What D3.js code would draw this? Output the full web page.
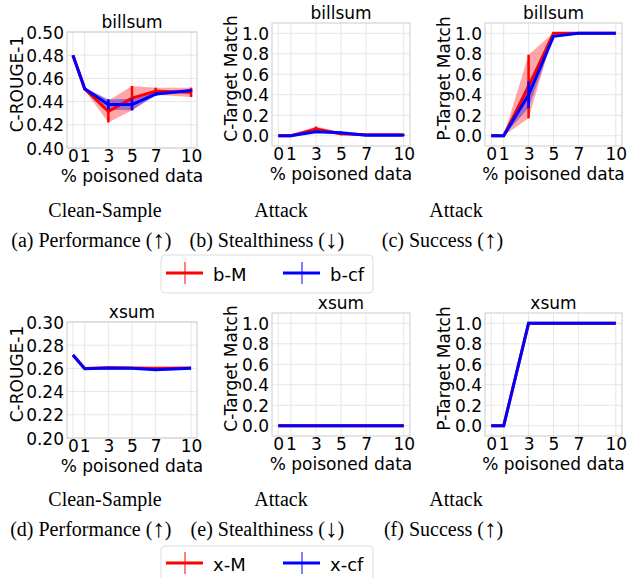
<!DOCTYPE html>
<html>
<head>
<meta charset="utf-8">
<script src="https://cdn.jsdelivr.net/npm/d3@7"></script>
<style>
  body { margin: 0; background: #fff; }
  svg { display: block; }
</style>
</head>
<body>
<svg id="chart" width="634" height="578"></svg>
<script>
// x positions (% poisoned data)
const pct = [0, 1, 3, 5, 7, 10];

// billsum, clean-sample performance (C-ROUGE-1)
const bCleanM = [0.480, 0.451, 0.4315, 0.443, 0.449, 0.448];
const bCleanMStd = [0, 0.001, 0.0095, 0.0105, 0.003, 0.004];
const bCleanCf = [0.480, 0.451, 0.4375, 0.4375, 0.4465, 0.4495];
const bCleanCfStd = [0, 0.001, 0.0045, 0.005, 0.0015, 0.001];

// billsum, attack stealthiness (C-Target Match)
const bStealthM = [0, 0, 0.065, 0.02, 0.01, 0.01];
const bStealthMStd = [0, 0, 0.025, 0.015, 0.005, 0.005];
const bStealthCf = [0, 0, 0.04, 0.03, 0.005, 0.005];
const bStealthCfStd = [0, 0, 0.01, 0.01, 0.003, 0.003];

// billsum, attack success (P-Target Match)
const bSuccessM = [0, 0, 0.48, 1.0, 1.0, 1.0];
const bSuccessMStd = [0, 0, 0.31, 0.005, 0, 0];
const bSuccessCf = [0, 0, 0.40, 0.97, 1.0, 1.0];
const bSuccessCfStd = [0, 0, 0.13, 0.012, 0, 0];

// xsum
const xCleanM = [0.2716, 0.260, 0.2605, 0.2603, 0.2602, 0.2604];
const xCleanMStd = [0, 0, 0, 0, 0.001, 0];
const xCleanCf = [0.2716, 0.2598, 0.2603, 0.2601, 0.2588, 0.2602];
const xCleanCfStd = [0, 0, 0, 0, 0.0003, 0];
const xStealthM = [0, 0, 0, 0, 0, 0];
const xStealthCf = [0, 0, 0, 0, 0, 0];
const xSuccessM = [0, 0, 1, 1, 1, 1];
const xSuccessCf = [0, 0, 1, 1, 1, 1];
const zeros = [0, 0, 0, 0, 0, 0];

const scoreTicks = [0.40, 0.42, 0.44, 0.46, 0.48, 0.50];
const xsumTicks = [0.20, 0.22, 0.24, 0.26, 0.28, 0.30];
const matchTicks = [0, 0.2, 0.4, 0.6, 0.8, 1.0];

const RED = "#ff0000", BLUE = "#0000ff";
const SANS = "DejaVu Sans", SERIF = "Liberation Serif";

const svg = d3.select("#chart");

const panels = [
  {title: "billsum", ylabel: "C-ROUGE-1", box: [67, 197, 32, 148], dom: [0.40, 0.50], ticks: scoreTicks, fmt: ".2f",
    series: [[bCleanM, bCleanMStd, RED], [bCleanCf, bCleanCfStd, BLUE]]},
  {title: "billsum", ylabel: "C-Target Match", box: [272, 410, 23, 146], dom: [-0.1, 1.1], ticks: matchTicks, fmt: ".1f",
    series: [[bStealthM, bStealthMStd, RED], [bStealthCf, bStealthCfStd, BLUE]]},
  {title: "billsum", ylabel: "P-Target Match", box: [485, 622, 23, 146], dom: [-0.1, 1.1], ticks: matchTicks, fmt: ".1f",
    series: [[bSuccessM, bSuccessMStd, RED], [bSuccessCf, bSuccessCfStd, BLUE]]},
  {title: "xsum", ylabel: "C-ROUGE-1", box: [67, 197, 322, 438], dom: [0.20, 0.30], ticks: xsumTicks, fmt: ".2f",
    series: [[xCleanM, xCleanMStd, RED], [xCleanCf, xCleanCfStd, BLUE]]},
  {title: "xsum", ylabel: "C-Target Match", box: [272, 410, 313, 436], dom: [-0.1, 1.1], ticks: matchTicks, fmt: ".1f",
    series: [[xStealthM, zeros, RED], [xStealthCf, zeros, BLUE]]},
  {title: "xsum", ylabel: "P-Target Match", box: [485, 622, 313, 436], dom: [-0.1, 1.1], ticks: matchTicks, fmt: ".1f",
    series: [[xSuccessM, zeros, RED], [xSuccessCf, zeros, BLUE]]}
];

function drawPanel(p) {
  const [l, r, t, b] = p.box;
  const x = d3.scaleLinear().domain([-0.5, 10.5]).range([l, r]);
  const y = d3.scaleLinear().domain(p.dom).range([b, t]);
  const g = svg.append("g");

  // grid
  g.selectAll(".gx").data(pct).enter().append("line")
    .attr("x1", d => x(d)).attr("x2", d => x(d)).attr("y1", t).attr("y2", b)
    .attr("stroke", "#e6e6e6").attr("stroke-width", 1);
  g.selectAll(".gy").data(p.ticks).enter().append("line")
    .attr("x1", l).attr("x2", r).attr("y1", d => y(d)).attr("y2", d => y(d))
    .attr("stroke", "#e6e6e6").attr("stroke-width", 1);

  // axes (no tick marks, just labels)
  const ax = g.append("g").attr("transform", "translate(0," + b + ")")
    .call(d3.axisBottom(x).tickValues(pct).tickSize(0).tickPadding(0).tickFormat(d3.format("d")));
  ax.select(".domain").remove();
  ax.selectAll("text").attr("dy", null).attr("y", 14).attr("font-size", 17)
    .attr("font-family", SANS).attr("fill", "#000");
  const ay = g.append("g").attr("transform", "translate(" + (l - 3) + ",0)")
    .call(d3.axisLeft(y).tickValues(p.ticks).tickSize(0).tickPadding(0).tickFormat(d3.format(p.fmt)));
  ay.select(".domain").remove();
  ay.selectAll("text").attr("dy", "0.36em").attr("font-size", 17)
    .attr("font-family", SANS).attr("fill", "#000");

  // frame
  g.append("rect").attr("x", l).attr("y", t).attr("width", r - l).attr("height", b - t)
    .attr("fill", "none").attr("stroke", "#cccccc").attr("stroke-width", 1);

  // title and labels
  g.append("text").attr("x", (l + r) / 2).attr("y", t - 4).attr("text-anchor", "middle")
    .attr("font-family", SANS).attr("font-size", 17).text(p.title);
  g.append("text").attr("x", (l + r) / 2).attr("y", b + 34).attr("text-anchor", "middle")
    .attr("font-family", SANS).attr("font-size", 17).text("% poisoned data");
  const lx = l === 67 ? 23 : l - 35;
  g.append("text").attr("transform", "translate(" + lx + "," + ((t + b) / 2 - 6) + ") rotate(-90)")
    .attr("text-anchor", "middle").attr("font-family", SANS).attr("font-size", 17).text(p.ylabel);

  // bands, lines and error bars
  p.series.forEach(([mean, std, col]) => {
    const pts = pct.map((d, i) => ({x: d, m: mean[i], s: std[i]}));
    g.append("path").datum(pts)
      .attr("d", d3.area().x(d => x(d.x)).y0(d => y(d.m - d.s)).y1(d => y(d.m + d.s)))
      .attr("fill", col).attr("fill-opacity", 0.35).attr("stroke", "none");
  });
  p.series.forEach(([mean, std, col]) => {
    const pts = pct.map((d, i) => ({x: d, m: mean[i], s: std[i]}));
    g.append("path").datum(pts)
      .attr("d", d3.line().x(d => x(d.x)).y(d => y(d.m)))
      .attr("fill", "none").attr("stroke", col).attr("stroke-width", 3);
    g.selectAll(null).data(pts.filter(d => d.s > 0)).enter().append("line")
      .attr("x1", d => x(d.x)).attr("x2", d => x(d.x))
      .attr("y1", d => y(d.m - d.s)).attr("y2", d => y(d.m + d.s))
      .attr("stroke", col).attr("stroke-width", 2.5);
  });
}

panels.forEach(drawPanel);

// sub-figure captions
const captions = [
  ["(a)", "Clean-Sample", "Performance", "\u2191", 105, 217],
  ["(b)", "Attack", "Stealthiness", "\u2193", 281, 217],
  ["(c)", "Attack", "Success", "\u2191", 456, 217],
  ["(d)", "Clean-Sample", "Performance", "\u2191", 105, 506],
  ["(e)", "Attack", "Stealthiness", "\u2193", 281, 506],
  ["(f)", "Attack", "Success", "\u2191", 456, 506]
];
captions.forEach(([lab, l1, l2, arrow, cx, by]) => {
  svg.append("text").attr("x", cx).attr("y", by).attr("text-anchor", "middle")
    .attr("font-family", SERIF).attr("font-size", 20).text(l1);
  const t2 = svg.append("text").attr("x", cx).attr("y", by + 30).attr("text-anchor", "middle")
    .attr("font-family", SERIF).attr("font-size", 20);
  t2.append("tspan").text(l2 + " (");
  t2.append("tspan").attr("font-size", 25).attr("dy", 1).text(arrow);
  t2.append("tspan").attr("dy", -1).text(")");
  const w = t2.node().getComputedTextLength();
  svg.append("text").attr("x", cx - w / 2 - 5).attr("y", by + 30).attr("text-anchor", "end")
    .attr("font-family", SERIF).attr("font-size", 20).text(lab);
});

// legends
const legends = [
  [["b-M", RED], ["b-cf", BLUE], 255, 273],
  [["x-M", RED], ["x-cf", BLUE], 546, 563]
];
legends.forEach(([a, b, top, ly]) => {
  svg.append("rect").attr("x", 161).attr("y", top).attr("width", 212).attr("height", 38)
    .attr("rx", 4).attr("fill", "#fff").attr("stroke", "#dddddd");
  [[a, 166], [b, 283]].forEach(([[name, col], x0]) => {
    svg.append("line").attr("x1", x0).attr("x2", x0 + 37).attr("y1", ly).attr("y2", ly)
      .attr("stroke", col).attr("stroke-width", 3);
    svg.append("line").attr("x1", x0 + 19).attr("x2", x0 + 19).attr("y1", ly - 11).attr("y2", ly + 11)
      .attr("stroke", col).attr("stroke-width", 1);
    svg.append("text").attr("x", x0 + 47).attr("y", ly + 8).attr("font-family", SANS)
      .attr("font-size", 18).text(name);
  });
});
</script>
</body>
</html>
